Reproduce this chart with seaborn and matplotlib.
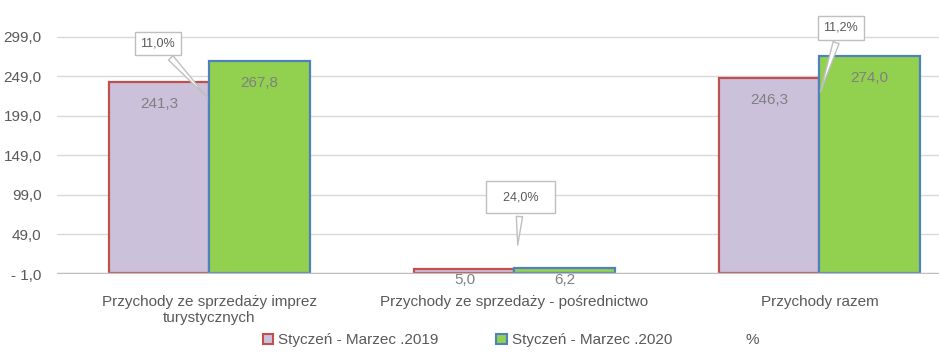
import pandas as pd
import matplotlib.pyplot as plt
import matplotlib.patches as mpatches
from matplotlib.lines import Line2D
import seaborn as sns

categories = ["Przychody ze sprzedaży imprez\nturystycznych",
              "Przychody ze sprzedaży - pośrednictwo",
              "Przychody razem"]
periods = ["Styczeń - Marzec .2019", "Styczeń - Marzec .2020"]
values_2019 = [241.3, 5.0, 246.3]
values_2020 = [267.8, 6.2, 274.0]
pct_change = ["11,0%", "24,0%", "11,2%"]
y_ticks = [-1, 49, 99, 149, 199, 249, 299]

fill_colors = ["#CBC1DB", "#92D050"]
edge_colors = ["#C0504D", "#4F81BD"]
text_gray = "#595959"


def fmt(v):
    s = f"{abs(v):.1f}".replace(".", ",")
    return f"- {s}" if v < 0 else s


def main():
    df = pd.DataFrame({
        "category": categories * 2,
        "value": values_2019 + values_2020,
        "period": [periods[0]] * 3 + [periods[1]] * 3,
    })

    sns.set_theme(style="white")
    plt.rcParams["font.family"] = ["Liberation Sans", "DejaVu Sans"]

    fig = plt.figure(figsize=(9.39, 3.59), dpi=100)
    ax = fig.add_axes([57 / 939, 85 / 359, 915 / 939, 254 / 359])

    sns.barplot(data=df, x="category", y="value", hue="period", order=categories,
                hue_order=periods, palette=fill_colors, width=0.656, ax=ax,
                legend=False, zorder=3, saturation=1)

    for cont, ec in zip(ax.containers, edge_colors):
        for p in cont.patches:
            p.set_edgecolor(ec)
            p.set_linewidth(1.6)
            h = p.get_height()
            cx = p.get_x() + p.get_width() / 2
            ty = h - 27 if h > 50 else -9
            ax.text(cx, ty, fmt(h), ha="center", va="center",
                    fontsize=11, color="#808080", zorder=5, clip_on=False)

    # percentage callouts (text offset, pointer tip, box padding)
    callouts = [((-0.17, 290), 219, 0.45), ((0.02, 96), 32, 0.8), ((0.07, 310), 226, 0.45)]
    for i, (lab, ((dx, ty), tip, pad)) in enumerate(zip(pct_change, callouts)):
        txt = f"  {lab}  " if i == 1 else lab
        ax.annotate(txt, xy=(i + (0.01 if i == 1 else 0), tip), xytext=(i + dx, ty),
                    ha="center", va="center", fontsize=9, color=text_gray, zorder=6,
                    bbox=dict(boxstyle=f"square,pad={pad}", fc="white", ec="#BFBFBF", lw=1),
                    arrowprops=dict(arrowstyle="wedge,tail_width=0.5,shrink_factor=0.5",
                                    fc="white", ec="#BFBFBF", lw=1))

    ax.set_ylim(-1, 320)
    ax.set_xlim(-0.5, 2.5)
    ax.set_yticks(y_ticks)
    ax.set_yticklabels([fmt(v) for v in y_ticks])
    ax.yaxis.grid(True, color="#D9D9D9", lw=1, zorder=0)
    ax.axhline(-1, color="#BFBFBF", lw=2.5, zorder=4)
    ax.set_xlabel("")
    ax.set_ylabel("")
    ax.tick_params(axis="both", length=0, labelsize=11, colors=text_gray)
    ax.tick_params(axis="x", pad=15)
    ax.tick_params(axis="y", pad=11)
    for s in ax.spines.values():
        s.set_visible(False)

    handles = [mpatches.Patch(fc=fill_colors[0], ec=edge_colors[0], lw=1.5),
               mpatches.Patch(fc=fill_colors[1], ec=edge_colors[1], lw=1.5),
               Line2D([], [], color="none")]
    fig.legend(handles, periods + ["%"], loc="center", bbox_to_anchor=(0.544, 0.052),
               ncol=3, frameon=False, fontsize=11, handlelength=0.7, handleheight=0.7,
               handletextpad=0.3, columnspacing=3.8, labelcolor=text_gray)

    fig.savefig("out.png", dpi=100)


if __name__ == "__main__":
    main()
